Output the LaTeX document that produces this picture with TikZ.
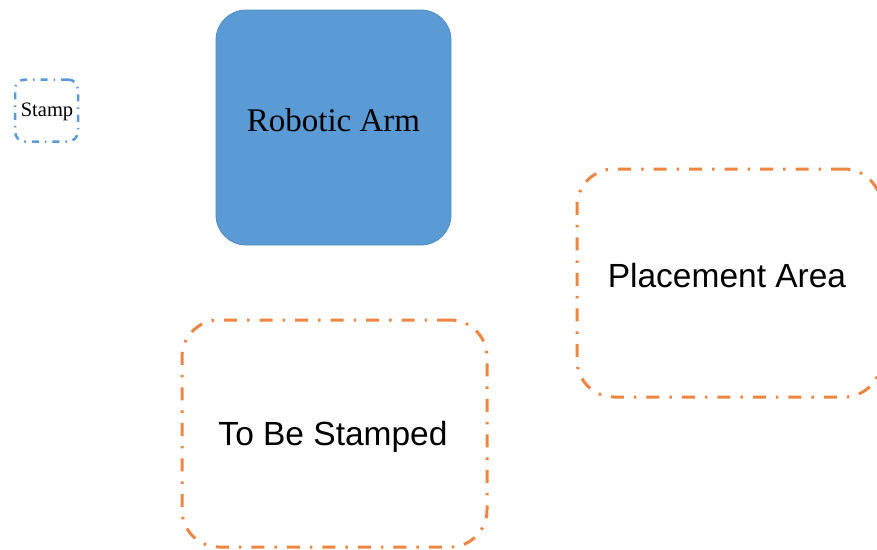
\documentclass[tikz,border=0pt]{standalone}
\usepackage{fontspec}
\setmainfont{Liberation Serif}
\newfontfamily\arialfont{Liberation Sans}
\definecolor{armblue}{HTML}{5B9BD5}
\definecolor{areaorange}{HTML}{EE8540}
\begin{document}
\begin{tikzpicture}[x=1pt,y=1pt,
  armbox/.style={draw=armblue!90!black,line width=0.8pt,fill=armblue,rounded corners=30pt,minimum width=235pt,minimum height=235pt,inner sep=0pt},
  stampbox/.style={draw=armblue,line width=2.5pt,rounded corners=10pt,minimum width=63pt,minimum height=62pt,inner sep=0pt,dash pattern=on 7pt off 6pt on 1.5pt off 6pt},
  areabox/.style={draw=areaorange,line width=3pt,rounded corners=37pt,inner sep=0pt,dash pattern=on 13pt off 10pt on 2.5pt off 10pt},
  serifbig/.style={inner sep=0pt,font=\fontsize{33}{38}\selectfont},
  sansbig/.style={inner sep=0pt,font=\arialfont\fontsize{33.5}{38}\selectfont}]
\useasboundingbox (0,0) rectangle (877,-549);
\node[armbox] (arm) at (333.5,-127.5) {};
\node[serifbig] (armtext) at (333.5,-120) {Robotic Arm};
\node[stampbox] (stamp) at (46.5,-110.5) {};
\node[inner sep=0pt,font=\fontsize{20.5}{24}\selectfont] (stamptext) at (47,-112) {Stamp};
\node[areabox,minimum width=305pt,minimum height=227pt] (tobe) at (334.5,-433.5) {};
\node[sansbig] (tobetext) at (333,-437) {To Be Stamped};
\node[areabox,minimum width=304pt,minimum height=228pt] (place) at (729,-283) {};
\node[sansbig] (placetext) at (727,-276) {Placement Area};
\end{tikzpicture}
\end{document}
